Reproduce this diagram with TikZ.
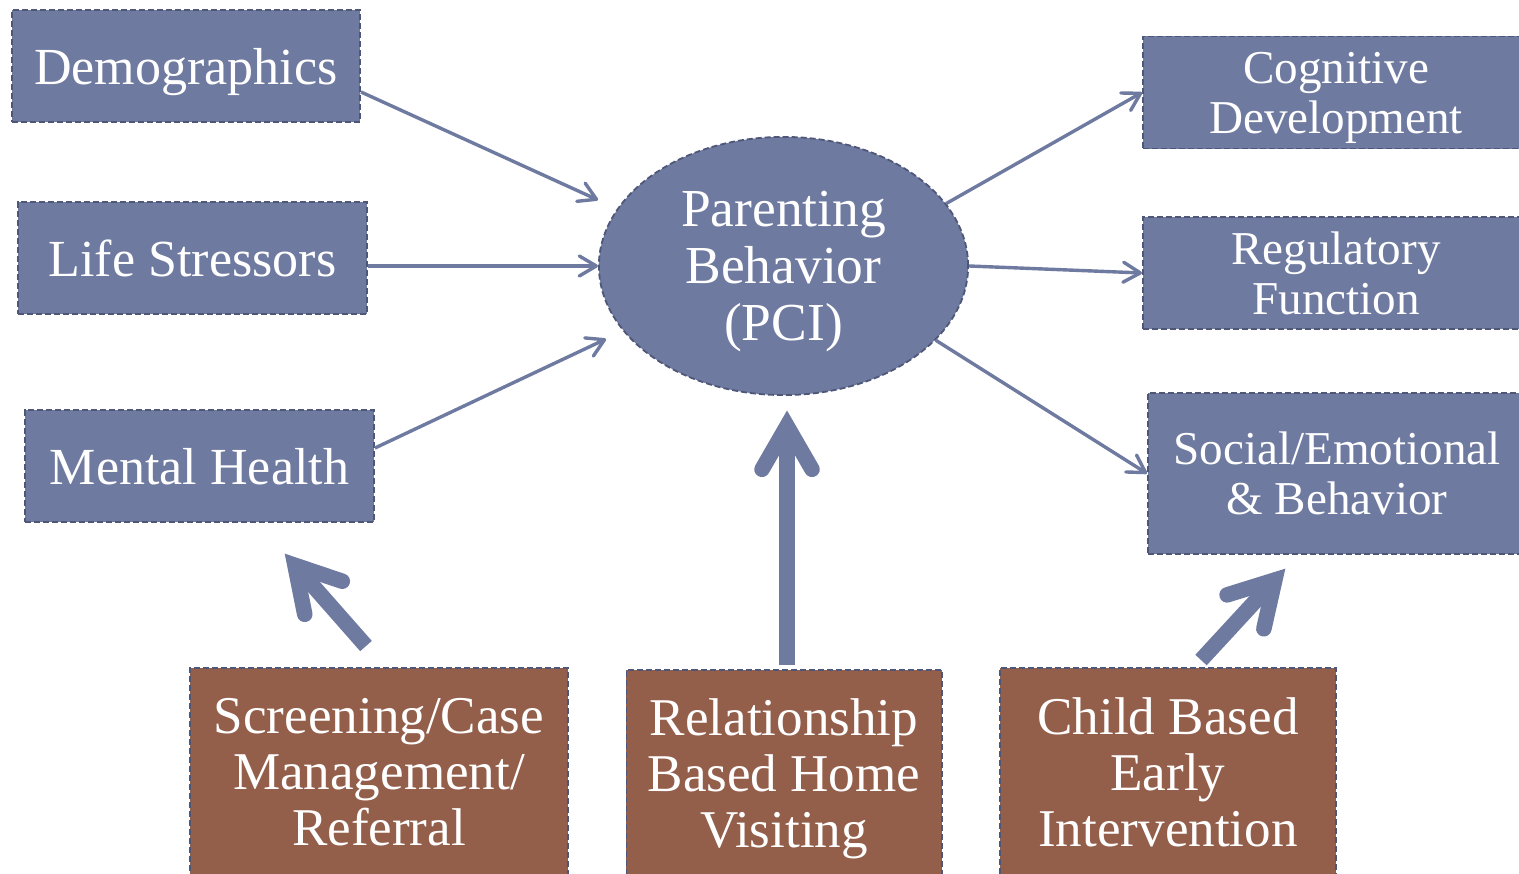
\documentclass[tikz,border=0pt]{standalone}
\usepackage{fontspec}
\setmainfont{Liberation Serif}
\usetikzlibrary{shapes.geometric,arrows.meta,calc}
\definecolor{boxblue}{HTML}{6F7AA0}
\definecolor{boxbrown}{HTML}{935E4A}
\definecolor{edgeline}{HTML}{4E5778}
\definecolor{arrowblue}{HTML}{6F7AA0}

% broad arrow: shaft from #1 to a chevron head whose point is #2
\newcommand{\fatarrow}[2]{%
  \coordinate (#2v) at ($(#2)!0.15cm!(#1)$);
  \draw[fatline, line cap=butt] (#1) -- (#2v);
  \draw[fatline, line cap=round, line join=miter]
    ($(#2v)!0.5cm!30:(#1)$) -- (#2v) -- ($(#2v)!0.5cm!-30:(#1)$);
}

\begin{document}
\begin{tikzpicture}[x=0.01cm,y=-0.01cm,
  box/.style={draw=edgeline, line width=0.018cm, dash pattern=on 0.06cm off 0.03cm,
    text=white, align=center, inner sep=0pt, text depth=0pt, anchor=center},
  bluebox/.style={box, fill=boxblue},
  brownbox/.style={box, fill=boxbrown},
  leftfont/.style={font=\fontsize{14.8}{17}\selectfont},
  rightfont/.style={font=\fontsize{13.4}{14.2}\selectfont},
  lowfont/.style={font=\fontsize{15.1}{15.9}\selectfont},
  flow/.style={draw=arrowblue, line width=0.034cm,
    -{Straight Barb[length=0.17cm,width=0.2cm,round]}},
  fatline/.style={draw=arrowblue, line width=0.155cm},
]
\useasboundingbox (0,0) rectangle (1519,874);
\fill[white] (0,0) rectangle (1519,874);
\clip (0,0) rectangle (1519,874);

% influences on parenting
\node[bluebox, leftfont, minimum width=3.48cm, minimum height=1.12cm] (demo) at (186,66) {Demographics};
\node[bluebox, leftfont, minimum width=3.49cm, minimum height=1.12cm] (life) at (192.5,258) {Life Stressors};
\node[bluebox, leftfont, minimum width=3.49cm, minimum height=1.12cm] (mental) at (199.5,466) {Mental Health};

% central construct
\node[ellipse, draw=edgeline, line width=0.018cm, dash pattern=on 0.06cm off 0.03cm,
  fill=boxblue, text=white, align=center, inner sep=0pt, text depth=0pt,
  minimum width=3.69cm, minimum height=2.58cm,
  font=\fontsize{15.2}{16.2}\selectfont] (pci) at (783.5,266) {Parenting\\Behavior\\(PCI)};

% child outcomes
\node[bluebox, rightfont, minimum width=3.86cm, minimum height=1.12cm] (cog) at (1336,92.5) {Cognitive\\Development};
\node[bluebox, rightfont, minimum width=3.86cm, minimum height=1.12cm] (reg) at (1336,273) {Regulatory\\Function};
\node[bluebox, rightfont, minimum width=3.78cm, minimum height=1.61cm] (soc) at (1337,473.5) {Social/Emotional\\\& Behavior};

% services
\node[brownbox, lowfont, minimum width=3.78cm, minimum height=2.08cm] (scr) at (379,772) {Screening/Case\\Management/\\Referral};
\node[brownbox, lowfont, minimum width=3.15cm, minimum height=2.06cm] (rel) at (784,773) {Relationship\\Based Home\\Visiting};
\node[brownbox, lowfont, minimum width=3.36cm, minimum height=2.08cm] (chi) at (1168,772) {Child Based\\Early\\Intervention};

% thin connectors
\coordinate (in1) at (598,200);
\coordinate (in3) at (606,339);
\draw[flow] ($(demo.east)+(0,26)$) -- (in1);
\draw[flow] ($(life.east)+(0,8)$) -- (pci.west);
\draw[flow] ($(mental.east)+(0,-18)$) -- (in3);
\draw[flow] (pci.21) -- (cog.west);
\draw[flow] (pci.0) -- (reg.west);
\draw[flow] (pci.-26) -- (soc.west);

% broad arrows from the services
\coordinate (tl) at ($(scr.north)+(-13,-21)$);
\coordinate (hl) at (285,554);
\coordinate (tm) at ($(rel.north)+(3,-4)$);
\coordinate (hm) at (787,411);
\coordinate (tr) at ($(chi.north)+(33,-7)$);
\coordinate (hr) at (1285,569);
\fatarrow{tl}{hl}
\fatarrow{tm}{hm}
\fatarrow{tr}{hr}
\end{tikzpicture}
\end{document}
